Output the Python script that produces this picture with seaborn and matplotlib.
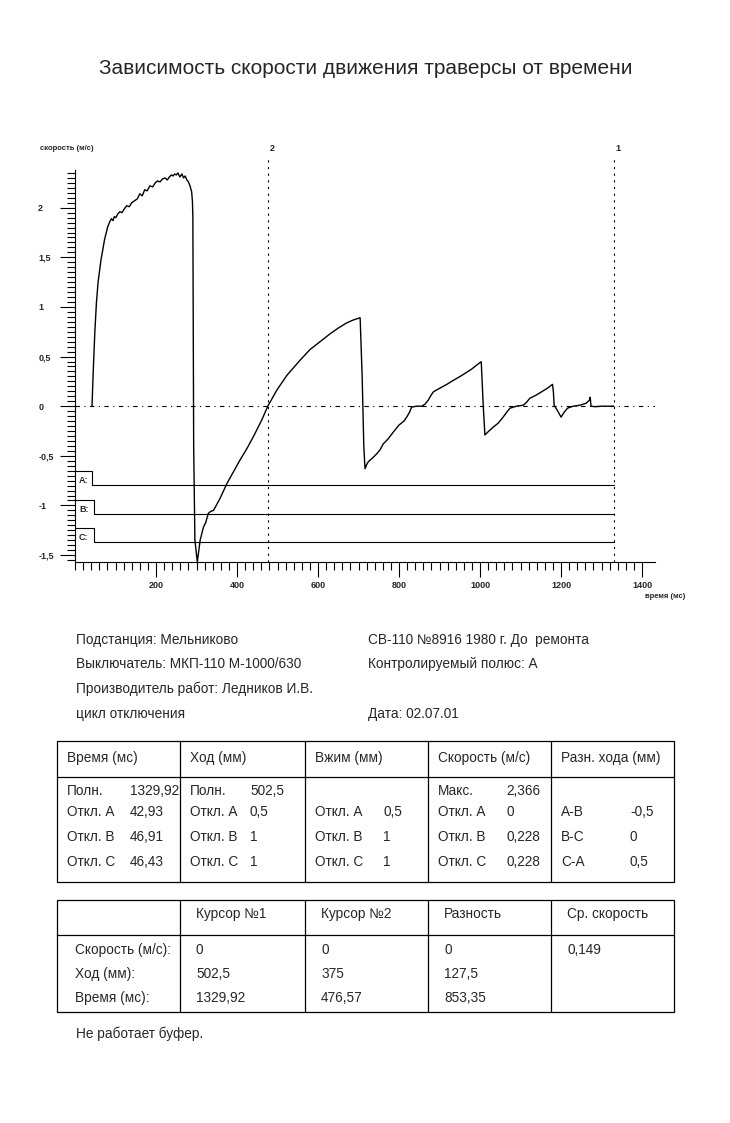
import numpy as np
import pandas as pd
import seaborn as sns
import matplotlib.pyplot as plt
from matplotlib.lines import Line2D
from matplotlib.patches import Rectangle
from matplotlib.ticker import FixedLocator

# кривая скорости (время, мс / скорость, м/с)
t_ms = [42, 45, 49, 53, 57, 64, 73, 81, 86, 90, 94, 97, 101, 106, 111, 116, 122, 128,
        134, 140, 147, 154, 160, 166, 172, 178, 185, 192, 198, 204, 210, 216, 222, 228,
        233, 238, 242, 246, 250, 254, 259, 264, 268, 272, 276, 280, 284, 288, 290, 291,
        293, 296, 302, 309, 317, 323, 329, 335, 342, 350, 358, 366, 375, 390,
        407, 424, 440, 461, 476, 498, 523, 556, 580, 605, 630, 651, 671,
        688, 700, 704, 709, 713, 716, 720, 724, 735, 745, 753, 761, 773, 786, 800, 812,
        819, 826, 831, 843, 856, 864, 872, 879, 885, 900, 918, 934, 955, 978, 1000, 1003,
        1008, 1012, 1022, 1033, 1045, 1057, 1066, 1074, 1090, 1107, 1115, 1123, 1138, 1152,
        1166, 1179, 1181, 1183, 1192, 1200, 1208, 1216, 1230, 1247, 1262, 1270, 1272, 1274,
        1284, 1300, 1330]
v_ms = [0.0, 0.35, 0.75, 1.05, 1.25, 1.47, 1.68, 1.81, 1.86, 1.89, 1.87, 1.91, 1.90, 1.94,
        1.96, 1.95, 1.99, 2.02, 2.01, 2.05, 2.07, 2.09, 2.14, 2.12, 2.18, 2.17, 2.22, 2.21,
        2.25, 2.27, 2.26, 2.29, 2.30, 2.28, 2.31, 2.33, 2.32, 2.34, 2.33, 2.35, 2.31, 2.34,
        2.30, 2.32, 2.28, 2.26, 2.22, 2.16, 2.06, 1.90, -0.41, -1.35, -1.57, -1.35, -1.22,
        -1.17, -1.08, -1.06, -1.05, -0.99, -0.93, -0.86, -0.78, -0.67,
        -0.545, -0.43, -0.31, -0.14, 0.0, 0.16, 0.31, 0.465, 0.57, 0.65, 0.73, 0.79, 0.84,
        0.87, 0.886, 0.89, 0.30, -0.40, -0.63, -0.59, -0.56, -0.52, -0.48, -0.44,
        -0.38, -0.33, -0.26, -0.19, -0.15, -0.11, -0.06, -0.01, 0.0, 0.0, 0.02, 0.06, 0.11,
        0.145, 0.18, 0.22, 0.26, 0.31, 0.37, 0.44, 0.447, 0.0, -0.29, -0.25, -0.21, -0.17,
        -0.11, -0.06, -0.02, 0.0, 0.01, 0.04, 0.08, 0.11, 0.145, 0.18, 0.22, 0.15, 0.01,
        -0.05, -0.11, -0.06, -0.02, 0.0, 0.01, 0.03, 0.06, 0.09, 0.0, -0.005, 0.0, 0.0]

x_ticks = [200, 400, 600, 800, 1000, 1200, 1400]
y_ticks = [-1.5, -1, -0.5, 0, 0.5, 1, 1.5, 2]
y_labels = ['-1,5', '-1', '-0,5', '0', '0,5', '1', '1,5', '2']

cursors = [476.57, 1329.92]
cursor_names = ['2', '1']

chan_names = ['A:', 'B:', 'C:']
chan_off = [42.93, 46.91, 46.43]
chan_hi = [-0.65, -0.946, -1.226]
chan_lo = [-0.79, -1.084, -1.367]

info_left = ['Подстанция: Мельниково', 'Выключатель: МКП-110 М-1000/630',
             'Производитель работ: Ледников И.В.', 'цикл отключения']
info_right = ['СВ-110 №8916 1980 г. До  ремонта', 'Контролируемый полюс: А', '',
              'Дата: 02.07.01']

t1_head = ['Время (мс)', 'Ход (мм)', 'Вжим (мм)', 'Скорость (м/с)', 'Разн. хода (мм)']
t1_names = [['Полн.', 'Откл. А', 'Откл. В', 'Откл. С'],
            ['Полн.', 'Откл. А', 'Откл. В', 'Откл. С'],
            ['', 'Откл. А', 'Откл. В', 'Откл. С'],
            ['Макс.', 'Откл. А', 'Откл. В', 'Откл. С'],
            ['', 'А-В', 'В-С', 'С-А']]
t1_vals = [['1329,92', '42,93', '46,91', '46,43'],
           ['502,5', '0,5', '1', '1'],
           ['', '0,5', '1', '1'],
           ['2,366', '0', '0,228', '0,228'],
           ['', '-0,5', '0', '0,5']]

t2_head = ['', 'Курсор №1', 'Курсор №2', 'Разность', 'Ср. скорость']
t2_rows = ['Скорость (м/с):', 'Ход (мм):', 'Время (мс):']
t2_vals = [['0', '502,5', '1329,92'],
           ['0', '375', '476,57'],
           ['0', '127,5', '853,35'],
           ['0,149', '', '']]

sns.set_style('ticks')
plt.rcParams['font.family'] = ['Liberation Sans', 'DejaVu Sans']

W, H = 730, 1123
fig = plt.figure(figsize=(W / 100, H / 100), dpi=100)


def fx(x):
    return x / W


def fy(y):
    return 1 - y / H


ax = fig.add_axes([fx(75), fy(562), 580 / W, 392 / H])
df = pd.DataFrame({'t': t_ms, 'v': v_ms})
sns.lineplot(data=df, x='t', y='v', color='black', lw=1, estimator=None, sort=False, ax=ax)

ax.set_xlim(0, 1432)
ax.set_ylim(-1.57, 2.38)
ax.axhline(0, color='black', lw=0.8, ls=(0, (4, 4, 1, 4)))

for c, n in zip(cursors, cursor_names):
    ax.plot([c, c], [-1.57, 2.5], color='black', lw=0.8, ls=(0, (2, 4)), clip_on=False)
    ax.text(c + 4, 2.6, n, fontsize=6.5, fontweight='bold', ha='left', va='center')

for n, off, hi, lo in zip(chan_names, chan_off, chan_hi, chan_lo):
    ax.plot([0, off, off, cursors[1]], [hi, hi, lo, lo], color='black', lw=0.8)
    ax.text(10, lo + 0.04, n, fontsize=6.5, fontweight='bold', ha='left', va='center')

sns.despine(ax=ax)
ax.set_xticks(x_ticks)
ax.set_xticklabels([str(x) for x in x_ticks])
ax.set_yticks(y_ticks)
ax.set_yticklabels(y_labels)
ax.xaxis.set_minor_locator(FixedLocator(np.arange(0, 1401, 20)))
ax.yaxis.set_minor_locator(FixedLocator(np.arange(-1.55, 2.36, 0.05)))
ax.tick_params(which='major', length=10.5, width=0.8, color='black', labelsize=6.5)
ax.tick_params(which='minor', length=5.5, width=0.8, color='black')
ax.tick_params(axis='y', which='major', pad=16)
ax.tick_params(axis='x', which='major', pad=3)
for lab in ax.get_xticklabels() + ax.get_yticklabels():
    lab.set_fontweight('bold')
for lab in ax.get_yticklabels():
    lab.set_horizontalalignment('left')
for s in ['left', 'bottom']:
    ax.spines[s].set_color('black')
    ax.spines[s].set_linewidth(0.8)
ax.set_xlabel('')
ax.set_ylabel('')

fig.text(fx(40), fy(148), 'скорость (м/с)', fontsize=5.5, fontweight='bold', va='center')
fig.text(fx(645), fy(596), 'время (мс)', fontsize=5.5, fontweight='bold', va='center')
fig.text(fx(366), fy(68), 'Зависимость скорости движения траверсы от времени',
         fontsize=15, ha='center', va='center')

# шапка
fs = 9.8
for i, (l, r) in enumerate(zip(info_left, info_right)):
    yy = [640, 664, 689, 714][i]
    fig.text(fx(76), fy(yy), l, fontsize=fs, va='center')
    fig.text(fx(368), fy(yy), r, fontsize=fs, va='center')


def box(x0, y0, x1, y1, hsep, vseps):
    fig.add_artist(Rectangle((fx(x0), fy(y1)), fx(x1) - fx(x0), fy(y0) - fy(y1),
                             fill=False, lw=0.9, ec='black'))
    fig.add_artist(Line2D([fx(x0), fx(x1)], [fy(hsep), fy(hsep)], lw=0.9, color='black'))
    for v in vseps:
        fig.add_artist(Line2D([fx(v), fx(v)], [fy(y0), fy(y1)], lw=0.9, color='black'))


cols = [57, 180, 305, 428, 551]
box(57, 741, 674, 882, 777, cols[1:])
val_dx = [63, 60, 68, 68, 69]
rows1 = [791, 812, 837, 862]
for j, x0 in enumerate(cols):
    fig.text(fx(x0 + 10), fy(758), t1_head[j], fontsize=fs, va='center')
    for k, yy in enumerate(rows1):
        fig.text(fx(x0 + 10), fy(yy), t1_names[j][k], fontsize=fs, va='center')
        fig.text(fx(x0 + 10 + val_dx[j]), fy(yy), t1_vals[j][k], fontsize=fs, va='center')

box(57, 900, 674, 1012, 935, cols[1:])
rows2 = [950, 974, 998]
for j, x0 in enumerate(cols):
    if j == 0:
        for k, yy in enumerate(rows2):
            fig.text(fx(75), fy(yy), t2_rows[k], fontsize=fs, va='center')
        continue
    fig.text(fx(x0 + 16), fy(914), t2_head[j], fontsize=fs, va='center')
    for k, yy in enumerate(rows2):
        fig.text(fx(x0 + 16), fy(yy), t2_vals[j - 1][k], fontsize=fs, va='center')

fig.text(fx(76), fy(1034), 'Не работает буфер.', fontsize=fs, va='center')

fig.savefig('out.png', dpi=100)
